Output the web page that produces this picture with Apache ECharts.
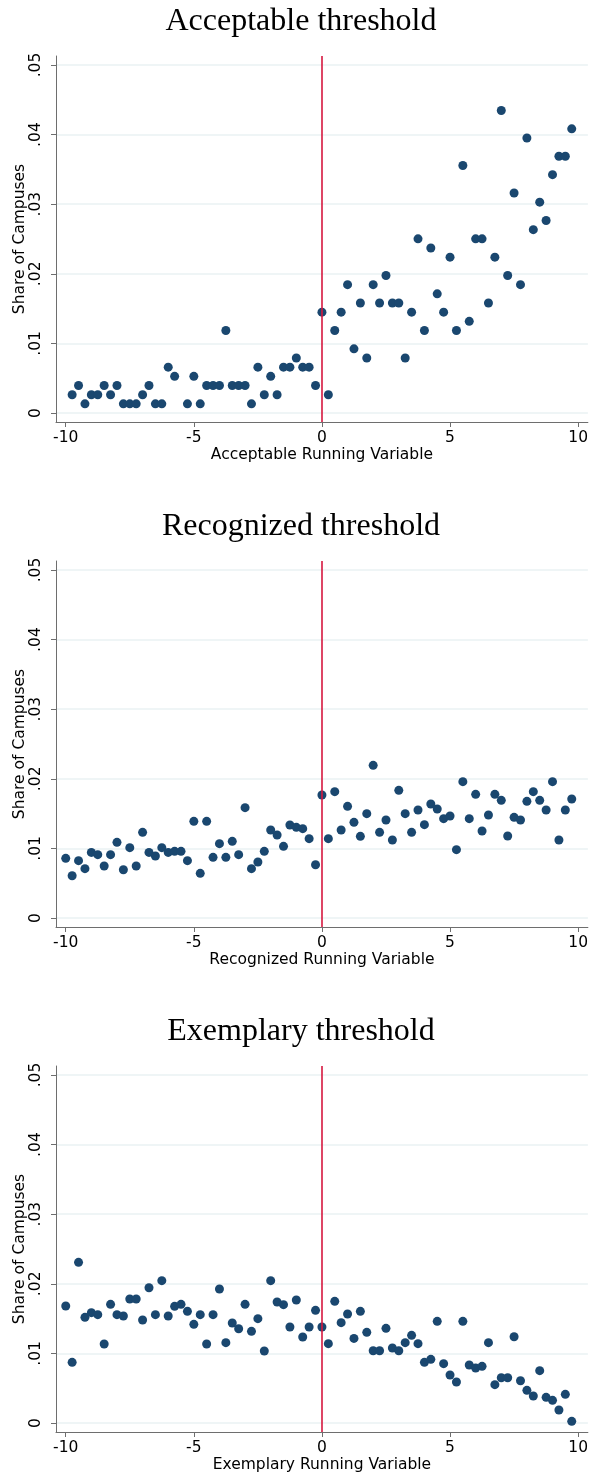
<!DOCTYPE html>
<html>
<head>
<meta charset="utf-8">
<script src="https://cdn.jsdelivr.net/npm/echarts@6/dist/echarts.min.js"></script>
<style>
html,body{margin:0;padding:0;background:#fff;}
#chart{width:591px;height:1478px;}
</style>
</head>
<body>
<div id="chart"></div>
<script>
// ---- data ----
const titles = ['Acceptable threshold', 'Recognized threshold', 'Exemplary threshold'];
const xNames = ['Acceptable Running Variable', 'Recognized Running Variable', 'Exemplary Running Variable'];
const yName = 'Share of Campuses';
const xTicks = [-10, -5, 0, 5, 10];
const yTicks = [0, 0.01, 0.02, 0.03, 0.04, 0.05];
const yTickLabels = ['0', '.01', '.02', '.03', '.04', '.05'];

const acceptableX = [-9.75,-9.5,-9.25,-9,-8.75,-8.5,-8.25,-8,-7.75,-7.5,-7.25,-7,-6.75,-6.5,-6.25,-6,-5.75,
  -5.25,-5,-4.75,-4.5,-4.25,-4,-3.75,-3.5,-3.25,-3,-2.75,-2.5,-2.25,-2,-1.75,-1.5,-1.25,-1,-0.75,-0.5,-0.25,
  0,0.25,0.5,0.75,1,1.25,1.5,1.75,2,2.25,2.5,2.75,3,3.25,3.5,3.75,4,4.25,4.5,4.75,5,5.25,5.5,5.75,6,6.25,6.5,
  6.75,7,7.25,7.5,7.75,8,8.25,8.5,8.75,9,9.25,9.5,9.75];
const acceptableY = [0.00263,0.00395,0.00132,0.00263,0.00263,0.00395,0.00263,0.00395,0.00132,0.00132,0.00132,0.00263,0.00395,0.00132,0.00132,0.00659,0.00527,
  0.00132,0.00527,0.00132,0.00395,0.00395,0.00395,0.01185,0.00395,0.00395,0.00395,0.00132,0.00659,0.00263,0.00527,0.00263,0.00659,0.00659,0.00790,0.00659,0.00659,0.00395,
  0.01449,0.00263,0.01185,0.01449,0.01844,0.00922,0.01580,0.00790,0.01844,0.01580,0.01976,0.01580,0.01580,0.00790,0.01449,0.02502,0.01185,0.02371,0.01712,0.01449,0.02239,0.01185,0.03556,0.01317,0.02502,0.02502,0.01580,
  0.02239,0.04346,0.01976,0.03161,0.01844,0.03951,0.02634,0.03029,0.02766,0.03424,0.03688,0.03688,0.04083];

const recognizedX = [-10,-9.75,-9.5,-9.25,-9,-8.75,-8.5,-8.25,-8,-7.75,-7.5,-7.25,-7,-6.75,-6.5,-6.25,-6,-5.75,-5.5,
  -5.25,-5,-4.75,-4.5,-4.25,-4,-3.75,-3.5,-3.25,-3,-2.75,-2.5,-2.25,-2,-1.75,-1.5,-1.25,-1,-0.75,-0.5,-0.25,
  0,0.25,0.5,0.75,1,1.25,1.5,1.75,2,2.25,2.5,2.75,3,3.25,3.5,3.75,4,4.25,4.5,4.75,5,5.25,5.5,5.75,6,6.25,6.5,
  6.75,7,7.25,7.5,7.75,8,8.25,8.5,8.75,9,9.25,9.5,9.75];
const recognizedY = [0.00857,0.00608,0.00824,0.00709,0.00943,0.00910,0.00747,0.00910,0.01087,0.00694,0.01011,0.00747,0.01231,0.00943,0.00891,0.01011,0.00943,0.00958,0.00958,
  0.00824,0.01389,0.00642,0.01389,0.00872,0.01068,0.00872,0.01102,0.00910,0.01585,0.00709,0.00805,0.00958,0.01264,0.01193,0.01030,0.01336,0.01303,0.01284,0.01140,0.00766,
  0.01767,0.01140,0.01815,0.01264,0.01604,0.01375,0.01173,0.01499,0.02193,0.01231,0.01408,0.01121,0.01834,0.01499,0.01231,0.01552,0.01341,0.01638,0.01566,0.01427,0.01466,0.00982,0.01959,0.01427,0.01777,0.01250,0.01480,
  0.01777,0.01691,0.01178,0.01446,0.01408,0.01676,0.01815,0.01691,0.01552,0.01959,0.01121,0.01552,0.01710];

const exemplaryX = [-10,-9.75,-9.5,-9.25,-9,-8.75,-8.5,-8.25,-8,-7.75,-7.5,-7.25,-7,-6.75,-6.5,-6.25,-6,-5.75,-5.5,
  -5.25,-5,-4.75,-4.5,-4.25,-4,-3.75,-3.5,-3.25,-3,-2.75,-2.5,-2.25,-2,-1.75,-1.5,-1.25,-1,-0.75,-0.5,-0.25,
  0,0.25,0.5,0.75,1,1.25,1.5,1.75,2,2.25,2.5,2.75,3,3.25,3.5,3.75,4,4.25,4.5,4.75,5,5.25,5.5,5.75,6,6.25,6.5,
  6.75,7,7.25,7.5,7.75,8,8.25,8.5,8.75,9,9.25,9.5,9.75];
const exemplaryY = [0.01681,0.00872,0.02308,0.01518,0.01585,0.01557,0.01135,0.01705,0.01557,0.01537,0.01782,0.01782,0.01480,0.01944,0.01557,0.02045,0.01537,0.01676,0.01705,
  0.01604,0.01418,0.01557,0.01135,0.01557,0.01925,0.01154,0.01437,0.01355,0.01705,0.01317,0.01499,0.01034,0.02045,0.01739,0.01700,0.01379,0.01767,0.01236,0.01379,0.01619,
  0.01379,0.01140,0.01748,0.01442,0.01566,0.01216,0.01604,0.01303,0.01039,0.01039,0.01360,0.01078,0.01039,0.01154,0.01260,0.01140,0.00872,0.00915,0.01461,0.00853,0.00690,0.00589,0.01461,0.00833,0.00790,0.00814,0.01154,
  0.00551,0.00651,0.00651,0.01240,0.00608,0.00469,0.00388,0.00752,0.00369,0.00326,0.00187,0.00412,0.00024];

const panelX = [acceptableX, recognizedX, exemplaryX];
const panelY = [acceptableY, recognizedY, exemplaryY];

// ---- layout ----
const panelH = 505;
const axisFont = 'DejaVu Sans';
const axisSize = 15.5;
const options = {
  animation: false,
  backgroundColor: '#ffffff',
  title: [], grid: [], xAxis: [], yAxis: [], series: []
};

for (let i = 0; i < 3; i++) {
  const off = i * panelH;
  options.title.push({
    text: titles[i], left: 296, top: off + 1, textAlign: 'center',
    textStyle: { fontFamily: 'Liberation Serif', fontSize: 32, fontWeight: 'normal', color: '#000' }
  });
  options.grid.push({ left: 56, width: 533, top: off + 56, height: 366 });
  options.xAxis.push({
    type: 'value', gridIndex: i, min: -10.38, max: 10.38,
    name: xNames[i], nameLocation: 'middle', nameGap: 25, nameMoveOverlap: false,
    nameTextStyle: { fontFamily: axisFont, fontSize: axisSize, color: '#000' },
    axisLine: { show: true, onZero: false, lineStyle: { color: '#6e6e6e', width: 1 } },
    axisTick: { show: true, length: 5, customValues: xTicks, lineStyle: { color: '#6e6e6e' } },
    axisLabel: { customValues: xTicks, margin: 8, fontFamily: axisFont, fontSize: axisSize, color: '#000' },
    splitLine: { show: false }
  });
  options.yAxis.push({
    type: 'value', gridIndex: i, min: -0.00129, max: 0.05129,
    name: yName, nameLocation: 'middle', nameGap: 28, nameRotate: 90, nameMoveOverlap: false,
    nameTextStyle: { fontFamily: axisFont, fontSize: axisSize, color: '#000' },
    axisLine: { show: true, onZero: false, lineStyle: { color: '#6e6e6e', width: 1 } },
    axisTick: { show: true, length: 5, customValues: yTicks, lineStyle: { color: '#6e6e6e' } },
    axisLabel: {
      customValues: yTicks, rotate: 90, margin: 12, fontFamily: axisFont, fontSize: axisSize, color: '#000',
      formatter: function (v) { const k = yTicks.findIndex(t => Math.abs(t - v) < 1e-9); return k >= 0 ? yTickLabels[k] : ''; }
    },
    splitLine: { show: true, lineStyle: { color: '#eaf2f3', width: 1.5 } }
  });
  const data = panelX[i].map((x, j) => [x, panelY[i][j]]);
  options.series.push({
    type: 'scatter', xAxisIndex: i, yAxisIndex: i, data: data,
    symbol: 'circle', symbolSize: 9,
    itemStyle: { color: '#1a476f', opacity: 1 },
    markLine: {
      silent: true, symbol: ['none', 'none'], label: { show: false },
      lineStyle: { color: '#d6173f', width: 1.6, type: 'solid' },
      data: [{ xAxis: 0 }]
    },
    z: 3
  });
}

const chart = echarts.init(document.getElementById('chart'), null, { renderer: 'canvas' });
chart.setOption(options);
</script>
</body>
</html>
